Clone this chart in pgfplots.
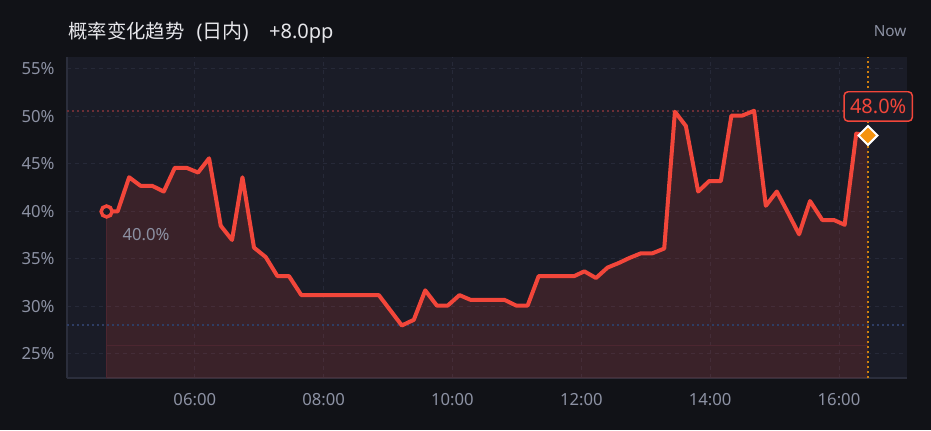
\documentclass[border=0pt]{standalone}
\usepackage{fontspec}
\setmainfont{Noto Sans}
\newfontfamily\cjk{Noto Sans CJK SC}
\usepackage{pgfplots}
\pgfplotsset{compat=1.18}

\definecolor{bgout}{HTML}{111217}
\definecolor{plotbg}{HTML}{1A1C27}
\definecolor{axisc}{HTML}{2B2E3C}
\definecolor{gridc}{HTML}{262938}
\definecolor{linered}{HTML}{F2463A}
\definecolor{tickc}{HTML}{8C91A3}
\definecolor{titlec}{HTML}{E6E6EA}
\definecolor{maxdot}{HTML}{6A2E36}
\definecolor{mindot}{HTML}{2E3D64}
\definecolor{nowline}{HTML}{D0800F}
\definecolor{diamondc}{HTML}{F5930F}
\definecolor{baseln}{HTML}{4C2630}

\begin{document}
\begin{tikzpicture}
\path[use as bounding box, fill=bgout] (-50.475pt,-38.775pt) rectangle (647.775pt,283.725pt);
\begin{axis}[
    at={(0,0)}, anchor=south west,
    scale only axis, width=629.55pt, height=240.75pt,
    xmin=4.021, xmax=17.051, ymin=22.44, ymax=56.23,
    clip=false,
    axis background/.style={fill=plotbg},
    axis x line*=bottom, axis y line*=left,
    axis line style={draw=axisc, line width=1.5pt},
    xtick={6,8,10,12,14,16},
    xticklabels={06:00,08:00,10:00,12:00,14:00,16:00},
    ytick={25,30,35,40,45,50,55},
    yticklabels={25\%,30\%,35\%,40\%,45\%,50\%,55\%},
    major tick length=0pt, tick style={draw=none},
    grid=major,
    major grid style={draw=gridc, line width=0.75pt, dash pattern=on 3pt off 3pt},
    ticklabel style={font=\fontsize{12.5pt}{15pt}\selectfont, text=tickc},
    xticklabel style={anchor=base, yshift=-20.25pt, inner sep=0pt},
    yticklabel style={anchor=east, xshift=-9.4pt, inner sep=0pt},
]
% area under the line
\addplot[draw=none, fill=linered, fill opacity=0.15] coordinates {
(4.631,22.44)
(4.631,40.0) (4.802,40.0) (4.981,43.6) (5.158,42.7) (5.338,42.7) (5.519,42.1)
(5.690,44.6) (5.871,44.6) (6.051,44.1) (6.222,45.6) (6.403,38.5) (6.578,37.0)
(6.740,43.6) (6.919,36.2) (7.101,35.2) (7.282,33.2) (7.462,33.2) (7.654,31.2)
(8.857,31.2) (9.214,28.0) (9.400,28.6) (9.577,31.7) (9.757,30.1) (9.927,30.1)
(10.109,31.2) (10.279,30.7) (10.806,30.7) (10.988,30.1) (11.167,30.1) (11.338,33.2)
(11.891,33.2) (12.047,33.7) (12.228,33.0) (12.408,34.1) (12.589,34.6) (12.744,35.1)
(12.926,35.6) (13.105,35.6) (13.287,36.1) (13.453,50.5) (13.623,49.0) (13.814,42.1)
(13.984,43.2) (14.166,43.2) (14.330,50.1) (14.501,50.1) (14.682,50.6) (14.864,40.6)
(15.034,42.1) (15.198,40.0) (15.380,37.6) (15.550,41.1) (15.741,39.1) (15.922,39.1)
(16.088,38.6) (16.268,48.2) (16.450,48.0)
(16.450,22.44)
} -- cycle;
\addplot[baseln, line width=0.75pt] coordinates {(4.631,22.44) (4.631,40.0)};
\addplot[baseln, line width=0.75pt] coordinates {(4.631,25.85) (16.45,25.85)};
% max / min reference lines
\addplot[maxdot, line width=1.1pt, dash pattern=on 1.5pt off 2.25pt] coordinates {(4.021,50.56) (17.051,50.56)};
\addplot[mindot, line width=1.1pt, dash pattern=on 1.5pt off 2.25pt] coordinates {(4.021,28.05) (17.051,28.05)};
% now marker line
\addplot[nowline, line width=1.1pt, dash pattern=on 1.5pt off 2.25pt] coordinates {(16.45,22.44) (16.45,56.23)};
% main line
\addplot[linered, line width=3pt, line join=round, line cap=round] coordinates {
(4.631,40.0) (4.802,40.0) (4.981,43.6) (5.158,42.7) (5.338,42.7) (5.519,42.1)
(5.690,44.6) (5.871,44.6) (6.051,44.1) (6.222,45.6) (6.403,38.5) (6.578,37.0)
(6.740,43.6) (6.919,36.2) (7.101,35.2) (7.282,33.2) (7.462,33.2) (7.654,31.2)
(8.857,31.2) (9.214,28.0) (9.400,28.6) (9.577,31.7) (9.757,30.1) (9.927,30.1)
(10.109,31.2) (10.279,30.7) (10.806,30.7) (10.988,30.1) (11.167,30.1) (11.338,33.2)
(11.891,33.2) (12.047,33.7) (12.228,33.0) (12.408,34.1) (12.589,34.6) (12.744,35.1)
(12.926,35.6) (13.105,35.6) (13.287,36.1) (13.453,50.5) (13.623,49.0) (13.814,42.1)
(13.984,43.2) (14.166,43.2) (14.330,50.1) (14.501,50.1) (14.682,50.6) (14.864,40.6)
(15.034,42.1) (15.198,40.0) (15.380,37.6) (15.550,41.1) (15.741,39.1) (15.922,39.1)
(16.088,38.6) (16.268,48.2) (16.450,48.0)
};
% start marker
\addplot[only marks, mark=*, mark size=4.1pt,
    mark options={draw=linered, fill=plotbg, line width=2.6pt}] coordinates {(4.631,40.0)};
% end label and marker
\node[draw=linered, line width=1.1pt, rounded corners=3pt, fill=plotbg, text=linered,
    font=\fontsize{15pt}{18pt}\selectfont, inner xsep=4.5pt, inner ysep=5.3pt,
    text height=10.7pt, text depth=0.8pt, xshift=7.65pt, yshift=21.75pt]
    at (axis cs:16.45,48.0) {48.0\%};
\addplot[only marks, mark=square*, mark size=5pt,
    mark options={rotate=45, draw=white, fill=diamondc, line width=1.5pt}] coordinates {(16.45,48.0)};
\node[anchor=base west, inner sep=0pt, text=tickc, font=\fontsize{12.5pt}{15pt}\selectfont,
    xshift=11.8pt, yshift=-21.75pt] at (axis cs:4.631,40.0) {40.0\%};
\end{axis}
\node[anchor=base west, inner sep=0pt, text=titlec, font=\fontsize{15pt}{18pt}\selectfont]
    at (0.75pt,254.5pt) {{\cjk\fontsize{14.5pt}{18pt}\selectfont 概率变化趋势}\hspace{9pt}({\cjk 日内})\hspace{15.5pt}+8.0pp};
\node[anchor=base east, inner sep=0pt, text=tickc, font=\fontsize{11.5pt}{14pt}\selectfont]
    at (629.55pt,256.7pt) {Now};
\end{tikzpicture}
\end{document}
